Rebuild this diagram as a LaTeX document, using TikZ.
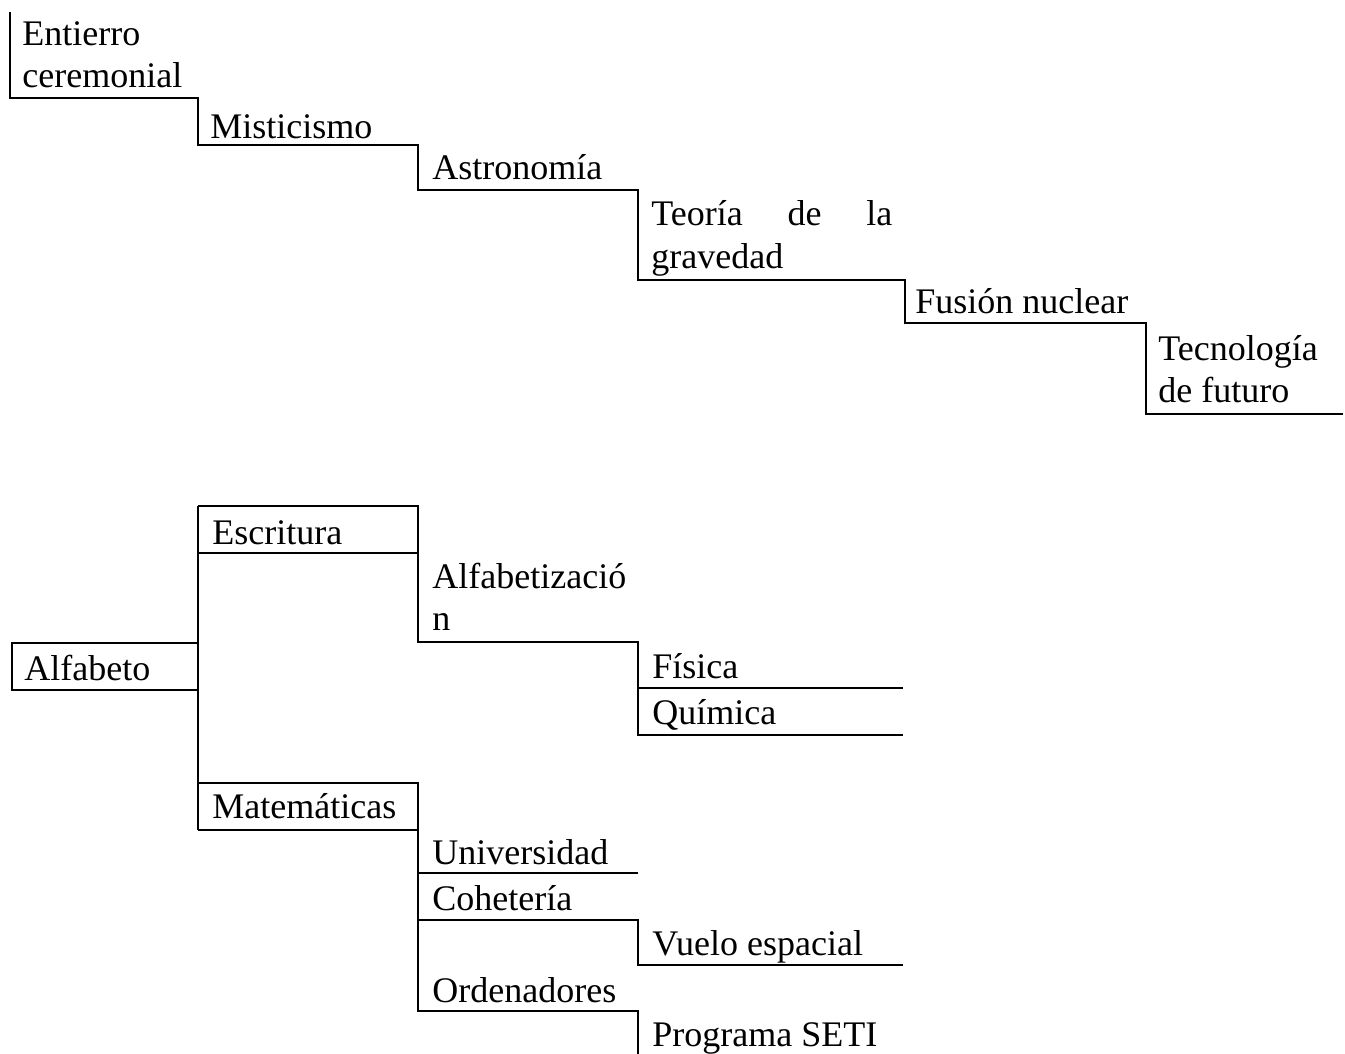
\documentclass[tikz,border=0pt]{standalone}
\usepackage{fontspec}
\setmainfont{Liberation Serif}
\usepackage{tikz}
\tikzstyle{rule} = [line width=0.9pt]
\tikzstyle{entry} = [anchor=base west, inner sep=0pt,
   font=\fontsize{18}{21}\selectfont, align=left]

\begin{document}
\begin{tikzpicture}[x=0.5pt, y=-0.5pt]
  \useasboundingbox (0,0) rectangle (1345,1054);

  % staircase: from burial to future technology
  \draw[rule] (10,12) -- (10,98) -- (198,98) -- (198,145) -- (418,145)
     -- (418,190) -- (638,190) -- (638,280) -- (905,280) -- (905,323)
     -- (1146,323) -- (1146,414) -- (1343,414);

  % note: base of a two-line entry is its last line
  \node[entry] (entierro) at (22,88) {Entierro\\ceremonial};
  \node[entry] (misticismo) at (210,139) {Misticismo};
  \node[entry] (astronomia) at (432,180) {Astronomía};
  \node[entry] (gravedad) at (651,268) {\makebox[120.5pt][s]{Teoría de la}\\gravedad};
  \node[entry] (fusion) at (915,313) {Fusión nuclear};
  \node[entry] (tecnologia) at (1158,402) {Tecnología\\de futuro};

  % tree: alphabet
  \draw[rule] (198,643) -- (12,643) -- (12,690) -- (198,690);
  \draw[rule] (198,506) -- (198,830);
  \draw[rule] (198,506) -- (418,506) -- (418,642) -- (638,642)
     -- (638,735) -- (903,735);
  \draw[rule] (198,553) -- (418,553);
  \draw[rule] (638,688) -- (903,688);
  \draw[rule] (198,783) -- (418,783) -- (418,1011) -- (638,1011) -- (638,1054);
  \draw[rule] (198,830) -- (418,830);
  \draw[rule] (418,873) -- (638,873);
  \draw[rule] (418,920) -- (638,920) -- (638,965) -- (903,965);

  \node[entry] (alfabeto) at (24,680) {Alfabeto};
  \node[entry] (escritura) at (212,544) {Escritura};
  \node[entry] (alfabetizacion) at (432,630) {Alfabetizació\\n};
  \node[entry] (fisica) at (652,678) {Física};
  \node[entry] (quimica) at (652,724) {Química};
  \node[entry] (matematicas) at (212,818) {Matemáticas};
  \node[entry] (universidad) at (432,864) {Universidad};
  \node[entry] (coheteria) at (432,910) {Cohetería};
  \node[entry] (vuelo) at (652,955) {Vuelo espacial};
  \node[entry] (ordenadores) at (432,1002) {Ordenadores};
  \node[entry] (seti) at (652,1046) {Programa SETI};
\end{tikzpicture}
\end{document}
